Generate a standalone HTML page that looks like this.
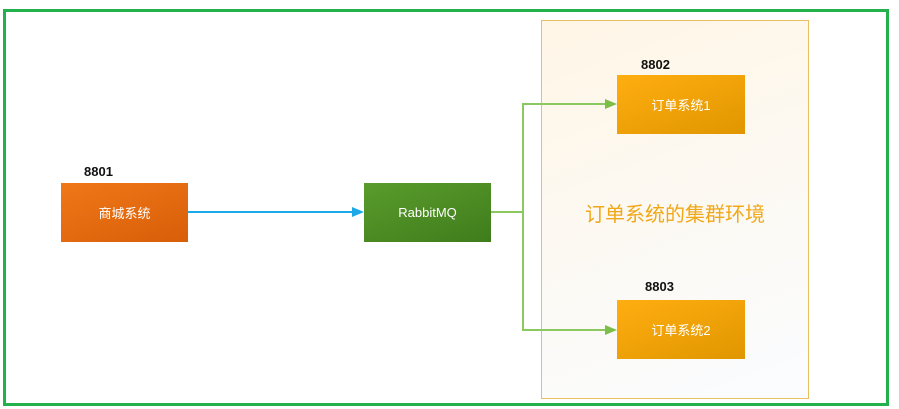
<!DOCTYPE html>
<html><head><meta charset="utf-8"><style>
body{margin:0;width:899px;height:409px;background:#fff;position:relative;overflow:hidden;font-family:"Liberation Sans","Noto Sans CJK SC",sans-serif}
.a{position:absolute}
.box{position:absolute;color:#fff;display:flex;align-items:center;justify-content:center;font-size:13px}
.n{position:absolute;font-size:13px;font-weight:bold;color:#111}
</style></head><body>
<div class="a" style="left:3px;top:9px;width:880px;height:391px;border:3px solid #22b14c"></div>
<div class="a" style="left:541px;top:20px;width:266px;height:377px;border:1px solid #e8c060;background:linear-gradient(160deg,#fff6e6,#fafcff)"></div>
<div class="a" style="left:541px;top:198px;width:268px;text-align:center;font-size:20px;color:#f0a818">订单系统的集群环境</div>
<div class="box" style="left:61px;top:183px;width:127px;height:59px;background:linear-gradient(160deg,#f07818,#d85e08)">商城系统</div>
<div class="box" style="left:364px;top:183px;width:127px;height:59px;background:linear-gradient(160deg,#5a9c2c,#3f7c1c)">RabbitMQ</div>
<div class="box" style="left:617px;top:75px;width:128px;height:59px;background:linear-gradient(160deg,#ffae10,#e09600)">订单系统1</div>
<div class="box" style="left:617px;top:300px;width:128px;height:59px;background:linear-gradient(160deg,#ffae10,#e09600)">订单系统2</div>
<div class="n" style="left:84px;top:164px">8801</div>
<div class="n" style="left:641px;top:57px">8802</div>
<div class="n" style="left:645px;top:279px">8803</div>
<svg class="a" style="left:0;top:0" width="899" height="409">
<line x1="188" y1="212" x2="356" y2="212" stroke="#1ea8e8" stroke-width="2"/>
<polygon points="364,212 352,207 352,217" fill="#1ea8e8"/>
<polyline points="491,212 523,212" fill="none" stroke="#8cc860" stroke-width="2"/>
<polyline points="610,104 523,104 523,330 610,330" fill="none" stroke="#8cc860" stroke-width="2"/>
<polygon points="617,104 605,99 605,109" fill="#7cbf48"/>
<polygon points="617,330 605,325 605,335" fill="#7cbf48"/>
</svg>
</body></html>
